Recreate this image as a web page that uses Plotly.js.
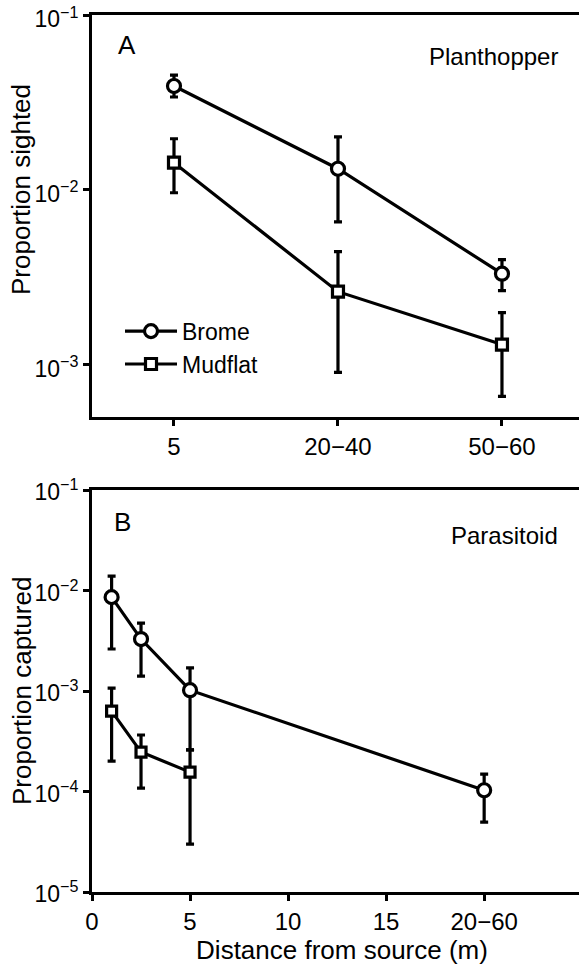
<!DOCTYPE html>
<html>
<head>
<meta charset="utf-8">
<script src="https://cdn.plot.ly/plotly-3.0.1.min.js"></script>
<style>
html,body{margin:0;padding:0;overflow:hidden;background:#fff;width:579px;height:970px;}
#chart{width:600px;height:970px;}
</style>
</head>
<body>
<div id="chart"></div>
<script>
// Panel A: Planthopper (proportion sighted)
const topCats = ["5", "20\u221240", "50\u221260"];
const bromeTop = [0.0393, 0.0132, 0.00331];
const bromeTopHi = [0.0454, 0.0201, 0.00398];
const bromeTopLo = [0.0340, 0.00656, 0.00265];
const mudTop = [0.0143, 0.00261, 0.00130];
const mudTopHi = [0.0196, 0.00443, 0.00198];
const mudTopLo = [0.00962, 0.00090, 0.000656];

// Panel B: Parasitoid (proportion captured)
const bromeBotX = [1, 2.5, 5, 20];
const bromeBot = [0.0086, 0.00329, 0.00102, 0.000103];
const bromeBotHi = [0.0139, 0.00475, 0.00170, 0.000149];
const bromeBotLo = [0.00262, 0.00141, 0.00026, 0.0000497];
const mudBotX = [1, 2.5, 5];
const mudBot = [0.000632, 0.000247, 0.000156];
const mudBotHi = [0.00107, 0.000365, 0.00026];
const mudBotLo = [0.000201, 0.000108, 0.000030];

const botTickVals = [0, 5, 10, 15, 20];
const botTickText = ["0", "5", "10", "15", "20\u221260"];
const topYTickVals = [0.1, 0.01, 0.001];
const topYTickText = ["10<sup>\u22121</sup>", "10<sup>\u22122</sup>", "10<sup>\u22123</sup>"];
const botYTickVals = [0.1, 0.01, 0.001, 0.0001, 0.00001];
const botYTickText = ["10<sup>\u22121</sup>", "10<sup>\u22122</sup>", "10<sup>\u22123</sup>", "10<sup>\u22124</sup>", "10<sup>\u22125</sup>"];

const FONT = "Liberation Sans, Arial, Helvetica, sans-serif";

function errs(y, hi, lo) {
  return {
    type: 'data', symmetric: false,
    array: y.map((v, i) => hi[i] - v),
    arrayminus: y.map((v, i) => v - lo[i]),
    color: '#000', thickness: 3.2, width: 4
  };
}
function tr(x, y, hi, lo, sym, size, name, xa, ya, show) {
  return {
    type: 'scatter', mode: 'lines+markers', x: x, y: y, name: name,
    xaxis: xa, yaxis: ya, showlegend: show,
    line: {color: '#000', width: 3.2},
    marker: {symbol: sym, size: size, color: '#fff', line: {color: '#000', width: 3.2}},
    error_y: errs(y, hi, lo), cliponaxis: false
  };
}

const data = [
  tr(topCats, bromeTop, bromeTopHi, bromeTopLo, 'circle', 13, 'Brome', 'x', 'y', true),
  tr(topCats, mudTop, mudTopHi, mudTopLo, 'square', 11, 'Mudflat', 'x', 'y', true),
  tr(bromeBotX, bromeBot, bromeBotHi, bromeBotLo, 'circle', 13, 'Brome', 'x2', 'y2', false),
  tr(mudBotX, mudBot, mudBotHi, mudBotLo, 'square', 10, 'Mudflat', 'x2', 'y2', false)
];

const axCommon = {
  showgrid: false, zeroline: false, showline: true, linecolor: '#000', linewidth: 3,
  mirror: true, ticks: 'outside', ticklen: 6, tickwidth: 3, tickcolor: '#000',
  ticklabeloverflow: 'allow',
  tickfont: {family: FONT, size: 24, color: '#000'}
};

const layout = {
  width: 600, height: 970,
  margin: {l: 92, r: 8, t: 15, b: 78},
  paper_bgcolor: '#fff', plot_bgcolor: '#fff',
  font: {family: FONT, color: '#000'},
  xaxis: Object.assign({}, axCommon, {
    type: 'category', domain: [0, 1], anchor: 'y',
    range: [-0.5, 2.549]
  }),
  yaxis: Object.assign({}, axCommon, {
    type: 'log', domain: [0.5416, 1], anchor: 'x',
    range: [Math.log10(5e-4), -0.999],
    tickvals: topYTickVals, ticktext: topYTickText,
    tickfont: {family: FONT, size: 23, color: '#000'},
    ticklabelshift: 4
  }),
  xaxis2: Object.assign({}, axCommon, {
    domain: [0, 1], anchor: 'y2', range: [0, 25.5],
    tickvals: botTickVals, ticktext: botTickText,
    title: {text: 'Distance from source (m)', font: {family: FONT, size: 26, color: '#000'}, standoff: 8}
  }),
  yaxis2: Object.assign({}, axCommon, {
    type: 'log', domain: [0, 0.4584], anchor: 'x2', range: [-5, -0.999],
    tickvals: botYTickVals, ticktext: botYTickText,
    tickfont: {family: FONT, size: 23, color: '#000'},
    ticklabelshift: 2
  }),
  showlegend: true,
  legend: {
    x: 0.056, y: 0.664, xanchor: 'left', yanchor: 'top',
    bgcolor: 'rgba(0,0,0,0)', font: {family: FONT, size: 23, color: '#000'},
    itemwidth: 52, tracegroupgap: 0
  },
  annotations: [
    {text: 'Proportion sighted', textangle: -90, xref: 'paper', yref: 'paper',
     x: (21 - 92) / 500, y: (892 - 190) / 877, xanchor: 'center', yanchor: 'middle',
     showarrow: false, font: {family: FONT, size: 26, color: '#000'}},
    {text: 'Proportion captured', textangle: -90, xref: 'paper', yref: 'paper',
     x: (22 - 92) / 500, y: (892 - 691) / 877, xanchor: 'center', yanchor: 'middle',
     showarrow: false, font: {family: FONT, size: 26, color: '#000'}},
    {text: 'A', xref: 'paper', yref: 'paper', x: (127 - 92) / 500, y: (892 - 45) / 877,
     xanchor: 'center', yanchor: 'middle', showarrow: false, font: {family: FONT, size: 26, color: '#000'}},
    {text: 'Planthopper', xref: 'paper', yref: 'paper', x: (560 - 92) / 500, y: (892 - 57) / 877,
     xanchor: 'right', yanchor: 'middle', showarrow: false, font: {family: FONT, size: 24, color: '#000'}},
    {text: 'B', xref: 'paper', yref: 'paper', x: (122 - 92) / 500, y: (892 - 522) / 877,
     xanchor: 'center', yanchor: 'middle', showarrow: false, font: {family: FONT, size: 26, color: '#000'}},
    {text: 'Parasitoid', xref: 'paper', yref: 'paper', x: (560 - 92) / 500, y: (892 - 535) / 877,
     xanchor: 'right', yanchor: 'middle', showarrow: false, font: {family: FONT, size: 24, color: '#000'}}
  ]
};

Plotly.newPlot('chart', data, layout, {displayModeBar: false, staticPlot: true});
</script>
</body>
</html>
